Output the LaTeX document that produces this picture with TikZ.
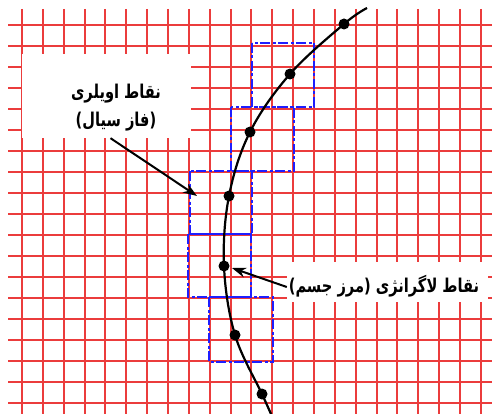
\documentclass[tikz,border=0pt]{standalone}
\usepackage{fontspec}
\newfontfamily\arabicfont[Script=Arabic,FakeStretch=0.77]{DejaVu Sans}
\TeXXeTstate=1
\usetikzlibrary{arrows.meta}
\definecolor{gridred}{RGB}{235,60,60}
\definecolor{boxblue}{RGB}{30,30,255}
\tikzset{
  gridline/.style={draw=gridred,line width=1.5pt},
  cellbox/.style={draw=boxblue,line width=2.8pt,dash pattern=on 10pt off 2.5pt on 3pt off 2.5pt},
  boundary/.style={draw=black,line width=2.2pt},
  lagpt/.style={circle,fill=black,minimum size=11pt,inner sep=0pt},
  labelbox/.style={fill=white,inner sep=0pt},
  labeltext/.style={inner sep=0pt,align=center,font=\arabicfont\bfseries\fontsize{19}{28}\selectfont},
  pointer/.style={draw=black,line width=2pt,-{Stealth[length=14pt,width=10pt]}}
}
\begin{document}
\begin{tikzpicture}[x=1pt,y=-1pt]
\useasboundingbox (0,0) rectangle (492,414);
% grid
\foreach \k in {0,...,18}{
  \draw[gridline] (8,{25+21*\k}) -- (492,{25+21*\k});
}
\foreach \k in {0,...,22}{
  \pgfmathsetmacro{\gx}{round(22+20.86*\k)}
  \draw[gridline] (\gx,9) -- (\gx,414);
}
% blue cells
\draw[cellbox] (252,43) rectangle (314,107);
\draw[cellbox] (231,107) rectangle (294,171);
\draw[cellbox] (190,171) rectangle (252,234);
\draw[cellbox] (188,234) rectangle (251,297);
\draw[cellbox] (209,297) rectangle (273,362);
% Lagrangian points
\node[lagpt] (p1) at (344,24) {};
\node[lagpt] (p2) at (290,74) {};
\node[lagpt] (p3) at (250,132) {};
\node[lagpt] (p4) at (229,196) {};
\node[lagpt] (p5) at (224,266) {};
\node[lagpt] (p6) at (235,335) {};
\node[lagpt] (p7) at (262,394) {};
\draw[boundary] plot[smooth,tension=0.6] coordinates {(367,8) (344,24) (290,74) (250,132) (229,196) (224,266) (235,335) (262,394) (271,414)};
% labels
\node[labelbox,minimum width=169pt,minimum height=84pt] (euler) at (106.5,96) {};
\node[labeltext] (eulertext) at (116,108)
  {\beginR نقاط اویلری\endR\\\beginR (فاز سیال)\endR};
\node[labelbox,minimum width=201pt,minimum height=40pt] (lag) at (387.5,282) {};
\node[labeltext] (lagtext) at (384,286)
  {\beginR نقاط لاگرانژی (مرز جسم)\endR};
\coordinate (tip1) at (197,196);
\coordinate (tip2) at (232,268);
\draw[pointer] ([xshift=4pt]euler.south) -- (tip1);
\draw[pointer] ([yshift=-5pt]lag.west) -- (tip2);
\end{tikzpicture}
\end{document}
